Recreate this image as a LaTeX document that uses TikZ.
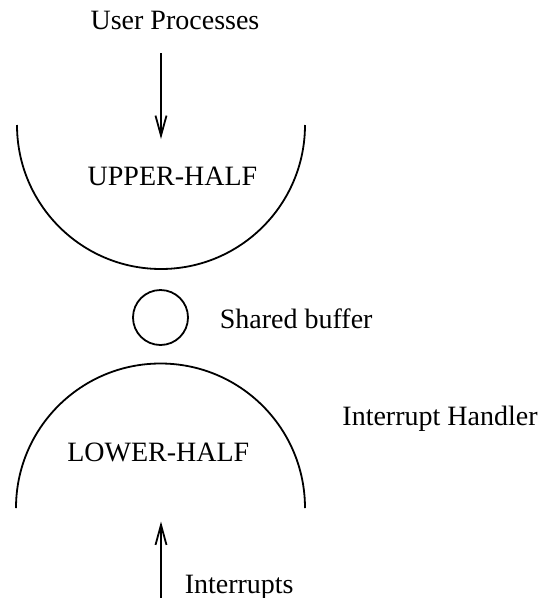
\documentclass[tikz,border=0pt]{standalone}
\usepackage{fontspec}
\setmainfont{Liberation Serif}
\usetikzlibrary{arrows.meta}
\begin{document}
\begin{tikzpicture}[x=1pt,y=-1pt,
  lbl/.style={anchor=base,inner sep=0pt,font=\fontsize{28}{32}\selectfont},
  curve/.style={line width=1.8pt},
  flow/.style={line width=1.8pt,-{Straight Barb[length=20pt,width=11pt,line width=1.8pt]}}]
\useasboundingbox (0,0) rectangle (543,598);
% texts
\node[lbl] (user) at (175,29.3) {User Processes};
\node[lbl] (upper) at (172.5,185) {UPPER-HALF};
\node[lbl] (shared) at (296.2,328) {Shared buffer};
\node[lbl] (handler) at (440,425.7) {Interrupt Handler};
\node[lbl] (lower) at (158.3,461.7) {LOWER-HALF};
\node[lbl] (intr) at (239.2,593.3) {Interrupts};
% shapes
\draw[curve] (17,125) arc[start angle=180,end angle=0,radius=144];
\draw[curve] (16,508) arc[start angle=180,end angle=360,radius=144.5];
\node[draw,circle,line width=1.8pt,minimum size=55pt,inner sep=0pt] (buf) at (160.5,317.5) {};
% arrows
\coordinate (a1s) at (161,53);
\coordinate (a1e) at (161,139);
\coordinate (a2s) at (161,598);
\coordinate (a2e) at (161,521.5);
\draw[flow] (a1s) -- (a1e);
\draw[flow] (a2s) -- (a2e);
\end{tikzpicture}
\end{document}
